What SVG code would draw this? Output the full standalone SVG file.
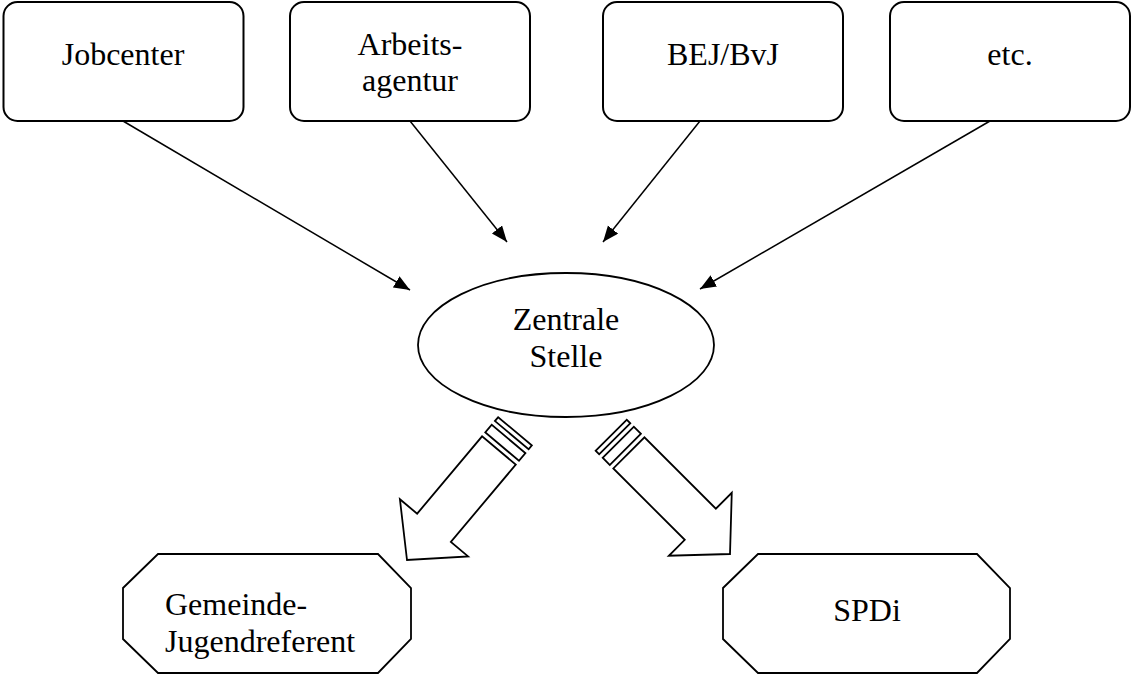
<svg xmlns="http://www.w3.org/2000/svg" width="1133" height="677" viewBox="0 0 1133 677">
<style>
.box{fill:#fff;stroke:#000;stroke-width:2}
.shape{fill:#fff;stroke:#000;stroke-width:1.8;stroke-linejoin:miter}
.t{font-family:"Liberation Serif","Times New Roman",serif;font-size:32px;fill:#000}
.c{text-anchor:middle}
.con{stroke:#000;stroke-width:1.5;fill:none}
</style>
<defs>
<marker id="ah" markerUnits="userSpaceOnUse" markerWidth="18" markerHeight="14" refX="16" refY="6.5" orient="auto">
<path d="M0,0 L16,6.5 L0,13 Z" fill="#000"/>
</marker>
<g id="striped">
<path d="M0,0 L42,-44.5 L42,-22 L143,-22 L143,22 L42,22 L42,44.5 Z"/>
<rect x="148" y="-22" width="10" height="44"/>
<rect x="163" y="-22" width="5" height="44"/>
</g>
</defs>
<rect width="1133" height="677" fill="#fff"/>
<g id="connectors">
<line class="con" x1="123" y1="121" x2="410" y2="290" marker-end="url(#ah)"/>
<line class="con" x1="410" y1="121" x2="507" y2="242" marker-end="url(#ah)"/>
<line class="con" x1="700" y1="121" x2="603" y2="242" marker-end="url(#ah)"/>
<line class="con" x1="990" y1="121" x2="700" y2="289" marker-end="url(#ah)"/>
<use href="#striped" class="shape" transform="translate(407,560) rotate(-50)"/>
<use href="#striped" class="shape" transform="translate(730,554) rotate(225)"/>
</g>
<g id="jobcenter">
<rect class="box" x="3.5" y="2" width="240" height="119" rx="14"/>
<text class="t c" x="123" y="65">Jobcenter</text>
</g>
<g id="arbeitsagentur">
<rect class="box" x="290" y="2" width="240" height="119" rx="14"/>
<text class="t c" x="410" y="55">Arbeits-</text>
<text class="t c" x="410" y="91">agentur</text>
</g>
<g id="bej">
<rect class="box" x="603" y="2" width="240" height="119" rx="14"/>
<text class="t c" x="723" y="65">BEJ/BvJ</text>
</g>
<g id="etc">
<rect class="box" x="890" y="2" width="240" height="119" rx="14"/>
<text class="t c" x="1010" y="65">etc.</text>
</g>
<g id="zentrale">
<ellipse class="shape" cx="566" cy="345" rx="148" ry="72"/>
<text class="t c" x="566" y="330">Zentrale</text>
<text class="t c" x="566" y="367">Stelle</text>
</g>
<g id="gemeinde">
<polygon class="shape" points="158,554 378,554 411,588 411,639 378,673 158,673 123,639 123,588"/>
<text class="t" x="165" y="615">Gemeinde-</text>
<text class="t" x="165" y="652">Jugendreferent</text>
</g>
<g id="spdi">
<polygon class="shape" points="758,554 977,554 1010,588 1010,639 977,673 758,673 723,639 723,588"/>
<text class="t c" x="867" y="621">SPDi</text>
</g>
</svg>
